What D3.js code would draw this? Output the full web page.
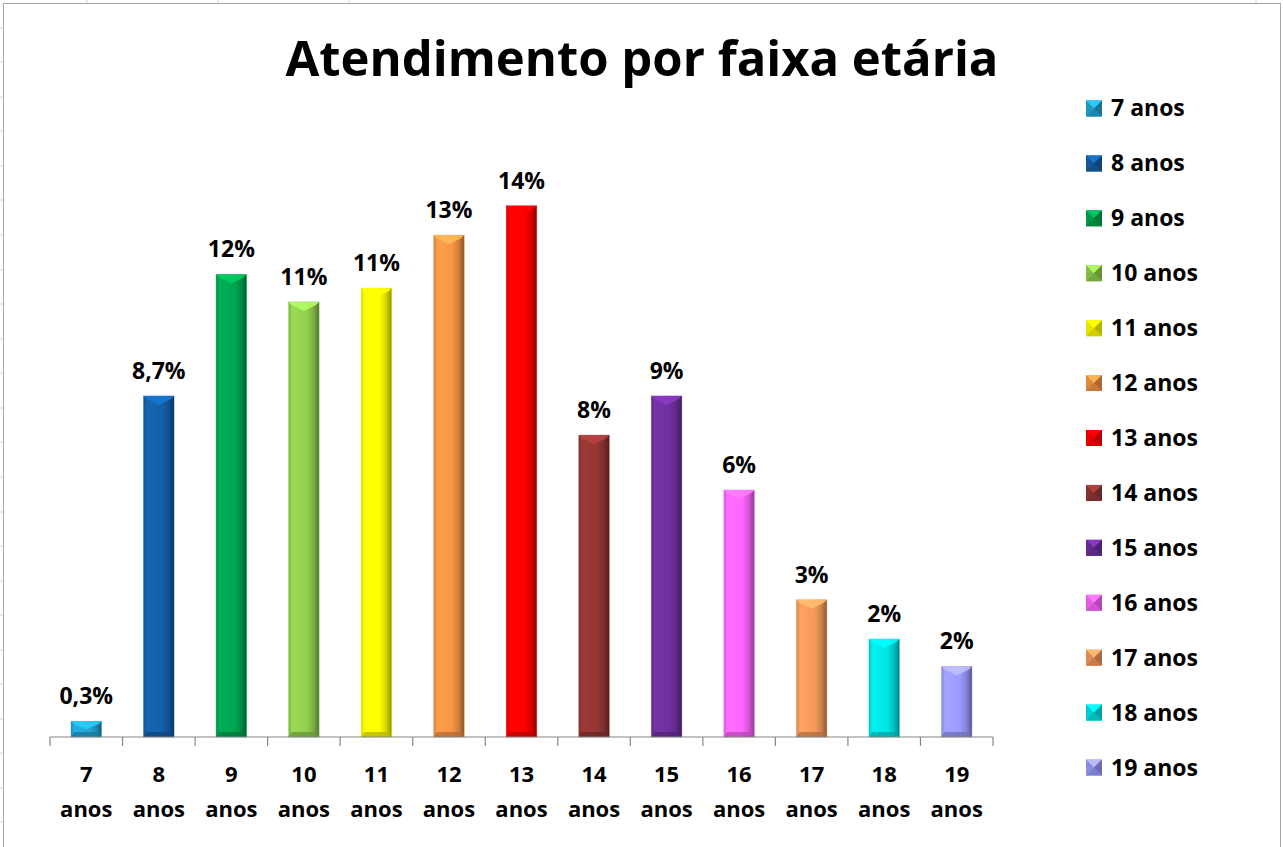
<!DOCTYPE html>
<html>
<head>
<meta charset="utf-8">
<script src="https://cdn.jsdelivr.net/npm/d3@7"></script>
<style>
  body { margin: 0; background: #fff; }
  text { font-family: "Open Sans", Lato, sans-serif; font-weight: bold; fill: #000; }
</style>
</head>
<body>
<div id="chart"></div>
<script>
// data
const categories = ["7 anos", "8 anos", "9 anos", "10 anos", "11 anos", "12 anos", "13 anos",
                    "14 anos", "15 anos", "16 anos", "17 anos", "18 anos", "19 anos"];
const values = [0.4, 8.7, 11.8, 11.1, 11.45, 12.8, 13.55, 7.7, 8.7, 6.3, 3.5, 2.5, 1.8];
const valueLabels = ["0,3%", "8,7%", "12%", "11%", "11%", "13%", "14%", "8%", "9%", "6%", "3%", "2%", "2%"];
const colors = ["#22a6d6", "#1461aa", "#00a651", "#92d050", "#ffff00", "#f79646", "#ff0000",
                "#953735", "#7030a0", "#ff66ff", "#f59a5c", "#00e5e5", "#9c9cff"];
const title = "Atendimento por faixa etária";

const W = 1283, H = 847;
const margin = { left: 50, right: 290, top: 149, bottom: 110 };
const baseY = 737;

var svg = d3.select("#chart").append("svg")
  .attr("width", W).attr("height", H);

// spreadsheet gridlines peeking out around the chart frame
svg.append("g").selectAll("line")
  .data([28, 62, 97, 131, 166, 200, 235, 270, 304, 339, 373, 408, 442, 477, 512, 546, 581, 615, 650, 684, 719, 753, 788, 822])
  .enter().append("line")
  .attr("x1", 0).attr("x2", 3).attr("y1", d => d).attr("y2", d => d)
  .style("stroke", "#d4d4d4");
svg.append("g").selectAll("line")
  .data([87, 218, 349, 1256])
  .enter().append("line")
  .attr("x1", d => d).attr("x2", d => d).attr("y1", 0).attr("y2", 3)
  .style("stroke", "#d4d4d4");

// chart frame
svg.append("rect")
  .attr("x", 3.5).attr("y", 3.5).attr("width", 1277).attr("height", H)
  .style("fill", "#fff").style("stroke", "#a6a6a6");

// title
svg.append("text")
  .text(title)
  .attr("x", 642).attr("y", 76)
  .style("font-size", "49px")
  .style("text-anchor", "middle");

// scales
var x = d3.scaleBand().domain(categories).range([margin.left, 993]).padding(0);
var y = d3.scaleLinear().domain([0, 15]).range([baseY, margin.top]);
const barW = x.bandwidth() * 0.42;

// gradients for the bevelled look
var defs = svg.append("defs");
colors.forEach(function (c, i) {
  var g = defs.append("linearGradient").attr("id", "grad" + i)
    .attr("x1", "0").attr("x2", "1").attr("y1", "0").attr("y2", "0");
  var base = d3.color(c);
  g.append("stop").attr("offset", "0").attr("stop-color", base.darker(0.4));
  g.append("stop").attr("offset", "0.12").attr("stop-color", base.brighter(0.15));
  g.append("stop").attr("offset", "0.6").attr("stop-color", base);
  g.append("stop").attr("offset", "0.82").attr("stop-color", base.darker(0.5));
  g.append("stop").attr("offset", "1").attr("stop-color", base.darker(1.6));
});

var bars = svg.append("g").selectAll("g.bar")
  .data(categories)
  .enter().append("g").attr("class", "bar");

bars.append("rect")
  .attr("x", d => x(d) + (x.bandwidth() - barW) / 2)
  .attr("y", (d, i) => y(values[i]))
  .attr("width", barW)
  .attr("height", (d, i) => baseY - y(values[i]))
  .style("fill", (d, i) => "url(#grad" + i + ")")
  .style("stroke", (d, i) => d3.color(colors[i]).darker(0.3))
  .style("stroke-opacity", 0.5)
  .style("stroke-width", 0.8);

// top bevel: light chevron
bars.append("path")
  .attr("d", function (d, i) {
    var x0 = x(d) + (x.bandwidth() - barW) / 2, x1 = x0 + barW, t = y(values[i]);
    var depth = Math.min(9, (baseY - t) / 2);
    return "M" + x0 + "," + t + "L" + x1 + "," + t + "L" + (x1 - 3) + "," + (t + 3) +
      "L" + (x0 + barW / 2) + "," + (t + depth) + "L" + (x0 + 3) + "," + (t + 3) + "Z";
  })
  .style("fill", (d, i) => d3.color(colors[i]).brighter(0.6))
  .style("opacity", 0.85);

// bottom bevel: dark band
bars.append("path")
  .attr("d", function (d, i) {
    var x0 = x(d) + (x.bandwidth() - barW) / 2, x1 = x0 + barW;
    var depth = Math.min(5, (baseY - y(values[i])) / 3);
    return "M" + (x0 + 3) + "," + (baseY - depth) + "L" + (x1 - 3) + "," + (baseY - depth) +
      "L" + x1 + "," + baseY + "L" + x0 + "," + baseY + "Z";
  })
  .style("fill", (d, i) => d3.color(colors[i]).darker(0.9))
  .style("opacity", 0.8);

// data labels
bars.append("text")
  .attr("x", d => x(d) + x.bandwidth() / 2)
  .attr("y", (d, i) => y(values[i]) - 17)
  .style("font-size", "23px")
  .style("text-anchor", "middle")
  .text((d, i) => valueLabels[i]);

// category axis
var axis = svg.append("g").attr("transform", "translate(0," + baseY + ")");
axis.append("line")
  .attr("x1", margin.left).attr("x2", 993)
  .style("stroke", "#868686").style("stroke-width", 1.2);
axis.selectAll("line.tick")
  .data(categories.concat([null]))
  .enter().append("line").attr("class", "tick")
  .attr("x1", (d, i) => i < categories.length ? x(d) : 993)
  .attr("x2", (d, i) => i < categories.length ? x(d) : 993)
  .attr("y1", 0).attr("y2", 9)
  .style("stroke", "#868686").style("stroke-width", 1.2);
var tl = axis.selectAll("text.cat")
  .data(categories)
  .enter().append("text").attr("class", "cat")
  .attr("x", d => x(d) + x.bandwidth() / 2)
  .style("font-size", "22px")
  .style("text-anchor", "middle");
tl.append("tspan").attr("x", d => x(d) + x.bandwidth() / 2).attr("y", 45).text(d => d.split(" ")[0]);
tl.append("tspan").attr("x", d => x(d) + x.bandwidth() / 2).attr("y", 80).text(d => d.split(" ")[1]);

// legend
var leg = d3.scaleBand().domain(categories).range([81, 795]);
var li = svg.append("g").selectAll("g.leg")
  .data(categories)
  .enter().append("g").attr("class", "leg")
  .attr("transform", d => "translate(1086," + (leg(d) + leg.bandwidth() / 2) + ")");
li.append("rect")
  .attr("x", 0).attr("y", -8).attr("width", 16).attr("height", 16)
  .style("fill", (d, i) => d3.color(colors[i]).darker(0.3));
li.append("path")
  .attr("d", "M0,-8L16,-8L8,0Z")
  .style("fill", (d, i) => d3.color(colors[i]).brighter(0.5));
li.append("path")
  .attr("d", "M16,-8L16,8L8,0Z")
  .style("fill", (d, i) => d3.color(colors[i]).darker(1));
li.append("path")
  .attr("d", "M0,8L16,8L8,0Z")
  .style("fill", (d, i) => d3.color(colors[i]).darker(0.6));
li.append("text")
  .attr("x", 25).attr("y", 8)
  .style("font-size", "23px")
  .text(d => d);
</script>
</body>
</html>
